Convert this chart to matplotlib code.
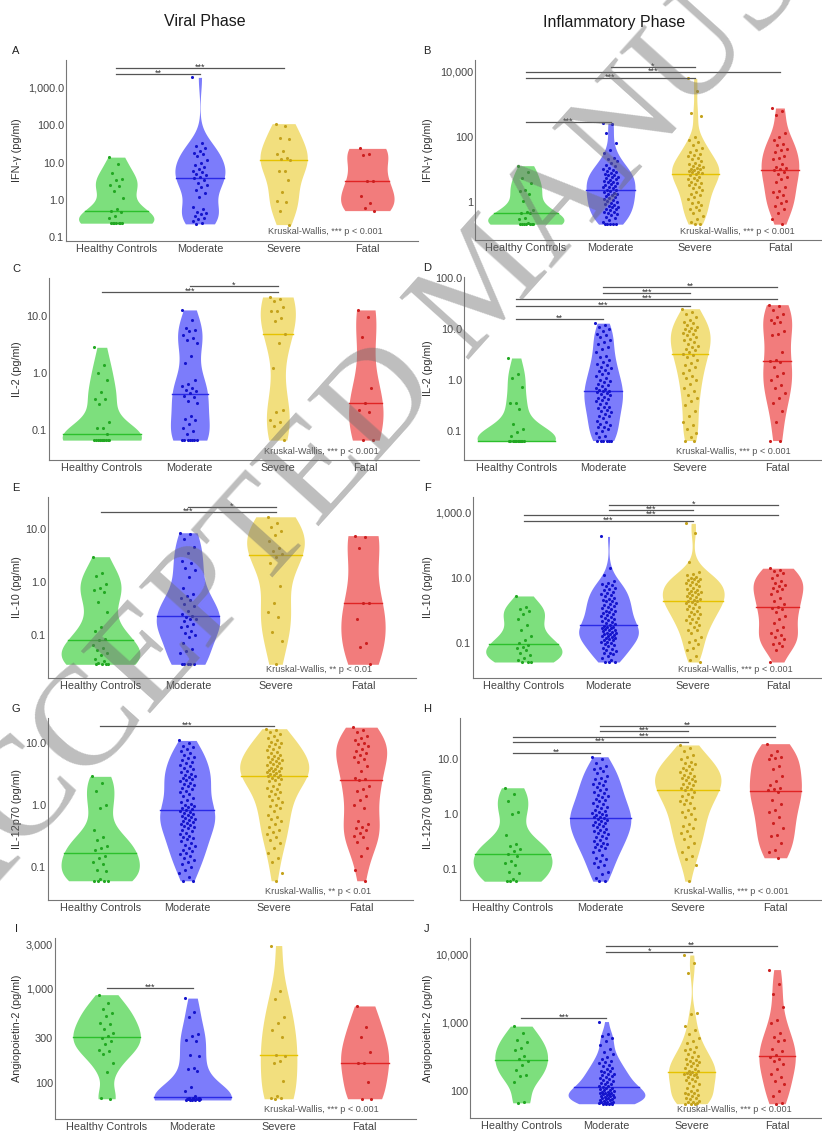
import numpy as np
import matplotlib
matplotlib.use("Agg")
import matplotlib.pyplot as plt

plt.rcParams['font.family'] = ['Liberation Sans', 'DejaVu Sans']

groups = ["Healthy Controls", "Moderate", "Severe", "Fatal"]
fill_cols = ['#7ddf7d', '#7c7cfb', '#f2df7e', '#f27c7c']
dot_cols = ['#22a822', '#1414cc', '#c4a21c', '#cc1f1f']
med_cols = ['#2cc02c', '#2a2ae6', '#e6c200', '#e02424']

# values in pg/ml; order = groups
ifn_viral = [
    [14, 9.2, 5.2, 3.6, 3.4, 2.5, 2.3, 1.7, 1.1, 0.56, 0.52, 0.49, 0.37, 0.34,
     0.24, 0.24, 0.24, 0.24, 0.24, 0.24, 0.24],
    [1900, 33, 27, 25, 20, 18, 17, 15, 12, 9.5, 8.5, 7.5, 6.8, 6.0, 5.5, 5.0,
     4.6, 4.2, 3.8, 3.4, 2.9, 2.5, 2.2, 1.9, 1.5, 1.2, 0.64, 0.56, 0.49, 0.45,
     0.41, 0.37, 0.34, 0.31, 0.28, 0.25, 0.23],
    [110, 95, 45, 42, 20, 17, 13, 12.5, 12, 6.0, 5.8, 3.4, 1.6, 0.95, 0.88, 0.5, 0.22],
    [24, 17, 16, 3.3, 3.3, 1.3, 0.85, 0.6, 0.52],
]
ifn_infl = [
    [12.9, 8.5, 5.3, 3.9, 2.4, 2.2, 1.8, 1.07, 0.57, 0.5, 0.47, 0.45, 0.32, 0.3,
     0.23, 0.22, 0.21, 0.21, 0.21, 0.21, 0.21, 0.21],
    [257, 240, 126, 63, 40, 32, 22, 20, 18, 16, 14, 12.6, 11, 10, 9.3, 8.7, 8.3,
     7.8, 7.2, 6.9, 6.5, 6.0, 5.8, 5.4, 5.0, 4.8, 4.5, 4.2, 4.0, 3.7, 3.5, 3.3,
     3.1, 2.9, 2.8, 2.6, 2.4, 2.3, 2.1, 2.0, 1.9, 1.8, 1.7, 1.6, 1.5, 1.4, 1.3,
     1.2, 1.15, 1.07, 1.0, 0.93, 0.87, 0.81, 0.76, 0.71, 0.68, 0.63, 0.59, 0.55,
     0.51, 0.49, 0.46, 0.44, 0.40, 0.35, 0.32, 0.28, 0.25, 0.22, 0.21, 0.21, 0.21, 0.21],
    [6000, 2400, 520, 420, 100, 80, 70, 55, 45, 40, 35, 30, 28, 25, 22, 20, 18,
     16, 15, 14, 13, 12, 11, 10.5, 10, 9.5, 9, 8.5, 8, 7.5, 7, 6.5, 6, 5.5, 5,
     4.6, 4.2, 3.8, 3.5, 3.2, 2.9, 2.6, 2.3, 2.0, 1.8, 1.6, 1.4, 1.2, 1.0, 0.9,
     0.8, 0.7, 0.6, 0.55, 0.45, 0.38, 0.3, 0.25, 0.21, 0.21],
    [750, 620, 450, 130, 100, 80, 60, 55, 42, 38, 35, 26, 22, 20, 15, 12, 11, 10,
     9.5, 8.5, 7, 6, 5, 4, 2.8, 2.2, 2.0, 1.6, 1.4, 1.1, 0.9, 0.75, 0.6, 0.45, 0.3, 0.21],
]
il2_viral = [
    [2.8, 1.4, 1.0, 0.76, 0.47, 0.36, 0.35, 0.29, 0.14, 0.11, 0.11, 0.087,
     0.068, 0.068, 0.068, 0.068, 0.068, 0.068, 0.068, 0.068, 0.068, 0.068, 0.068],
    [12.5, 8.5, 6.0, 5.5, 5.3, 4.5, 4.0, 3.8, 3.3, 2.0, 1.5, 0.75, 0.65, 0.6,
     0.55, 0.5, 0.48, 0.45, 0.4, 0.38, 0.33, 0.3, 0.18, 0.16, 0.15, 0.13, 0.11,
     0.1, 0.087, 0.068, 0.068, 0.068, 0.068, 0.068, 0.068, 0.068],
    [21, 19, 18, 14, 12, 12, 9, 8, 4.8, 3.3, 1.2, 0.23, 0.21, 0.15, 0.14, 0.12, 0.068],
    [12.5, 9.5, 4.3, 0.55, 0.3, 0.23, 0.21, 0.068, 0.068],
]
il2_infl = [
    [2.7, 1.3, 1.1, 0.74, 0.36, 0.35, 0.27, 0.14, 0.11, 0.095, 0.08,
     0.065, 0.065, 0.065, 0.065, 0.065, 0.065, 0.065, 0.065, 0.065, 0.065, 0.065, 0.065],
    [13, 12, 11, 10, 9, 8, 7.5, 7, 6, 5.5, 5, 4.5, 4, 3.5, 3, 2.8, 2.5, 2.3, 2.1,
     2.0, 1.8, 1.7, 1.6, 1.5, 1.4, 1.3, 1.2, 1.1, 1.0, 0.95, 0.9, 0.85, 0.8, 0.75,
     0.7, 0.68, 0.65, 0.62, 0.6, 0.57, 0.55, 0.52, 0.5, 0.47, 0.45, 0.42, 0.4,
     0.38, 0.36, 0.34, 0.3, 0.3, 0.28, 0.26, 0.25, 0.24, 0.22, 0.2, 0.2, 0.18,
     0.16, 0.15, 0.14, 0.13, 0.12, 0.12, 0.11, 0.1, 0.09, 0.08, 0.075,
     0.065, 0.065, 0.065, 0.065, 0.065, 0.065],
    [25, 22, 20, 17, 15, 14, 13, 12, 11, 10.5, 10, 9.5, 9, 8.5, 8, 7.5, 7, 6.5,
     6, 5.5, 5, 4.7, 4.4, 4.1, 3.8, 3.5, 3.3, 3.1, 2.8, 2.5, 2.2, 2.0, 1.8, 1.6,
     1.4, 1.2, 1.1, 1.0, 0.85, 0.7, 0.6, 0.5, 0.45, 0.38, 0.33, 0.25, 0.2, 0.15,
     0.13, 0.11, 0.09, 0.075, 0.065, 0.065],
    [30, 28, 24, 20, 17, 15, 14, 13, 9, 8, 7.5, 3.5, 2.5, 2.4, 2.3, 1.8, 1.4,
     1.2, 1.0, 0.8, 0.7, 0.55, 0.45, 0.35, 0.25, 0.15, 0.065, 0.065],
]
il10_viral = [
    [3.0, 1.5, 1.3, 0.92, 0.78, 0.72, 0.65, 0.42, 0.27, 0.14, 0.12, 0.083, 0.08,
     0.065, 0.058, 0.052, 0.045, 0.042, 0.036, 0.032, 0.029, 0.028, 0.028, 0.028, 0.028],
    [8.5, 8.0, 6.5, 4.6, 3.5, 2.5, 2.3, 1.8, 1.7, 1.26, 0.78, 0.6, 0.55, 0.5,
     0.45, 0.38, 0.35, 0.28, 0.25, 0.23, 0.22, 0.2, 0.2, 0.18, 0.16, 0.15, 0.14,
     0.12, 0.11, 0.1, 0.09, 0.07, 0.055, 0.05, 0.045,
     0.028, 0.028, 0.028, 0.028, 0.028],
    [17, 12.8, 11, 9.3, 7.7, 6.0, 4.4, 3.8, 3.4, 3.0, 2.3, 0.84, 0.4, 0.27, 0.22,
     0.115, 0.078, 0.028],
    [7.5, 7.0, 4.3, 0.4, 0.4, 0.2, 0.071, 0.06, 0.028],
]
il10_infl = [
    [2.8, 1.3, 1.1, 0.95, 0.8, 0.55, 0.36, 0.25, 0.16, 0.12, 0.1, 0.085, 0.078,
     0.07, 0.06, 0.05, 0.042, 0.035, 0.03, 0.026, 0.026, 0.026],
    [190, 20, 12, 8, 7, 6.5, 6, 5.5, 5, 4.6, 4.2, 3.8, 3.5, 3.2, 2.9, 2.7, 2.5,
     2.3, 2.1, 2.0, 1.9, 1.7, 1.6, 1.5, 1.4, 1.3, 1.2, 1.1, 1.0, 0.95, 0.9, 0.85,
     0.8, 0.75, 0.7, 0.65, 0.6, 0.55, 0.5, 0.47, 0.44, 0.41, 0.38, 0.36, 0.34,
     0.32, 0.3, 0.29, 0.28, 0.27, 0.26, 0.25, 0.24, 0.22, 0.21, 0.2, 0.19, 0.19,
     0.18, 0.17, 0.16, 0.15, 0.14, 0.14, 0.13, 0.12, 0.12, 0.11, 0.105, 0.1,
     0.09, 0.085, 0.08, 0.07, 0.065, 0.06, 0.055, 0.05, 0.05, 0.045, 0.04,
     0.035, 0.03, 0.026, 0.026, 0.026],
    [480, 250, 30, 15, 13, 12, 11, 10, 9.5, 9, 8.5, 8, 7.5, 7, 6.5, 6, 5.5, 5,
     4.7, 4.4, 4.1, 3.8, 3.6, 3.4, 3.2, 3.0, 2.8, 2.6, 2.4, 2.2, 2.1, 2.0, 1.9,
     1.8, 1.7, 1.6, 1.4, 1.3, 1.2, 1.1, 1.0, 0.9, 0.8, 0.8, 0.7, 0.6, 0.55, 0.5,
     0.45, 0.4, 0.35, 0.3, 0.25, 0.25, 0.2, 0.15, 0.12, 0.11, 0.09, 0.07, 0.06,
     0.04, 0.03, 0.026],
    [20, 18, 16, 14, 12, 10, 8, 7, 6, 5.5, 5, 4.5, 4, 3.2, 2.5, 2, 1.6, 1.3, 1.2,
     1.1, 0.9, 0.7, 0.55, 0.4, 0.3, 0.25, 0.2, 0.18, 0.15, 0.13, 0.1, 0.09, 0.08,
     0.06, 0.026],
]
il12_viral = [
    [2.9, 2.3, 1.7, 1.0, 0.9, 0.39, 0.3, 0.27, 0.22, 0.2, 0.19, 0.15, 0.14, 0.12,
     0.11, 0.09, 0.085, 0.065, 0.06, 0.06, 0.06, 0.06],
    [11, 10, 9, 8.5, 8, 7.5, 7, 6.5, 6, 5.7, 5.4, 5, 4.8, 4.5, 4.3, 4, 3.8, 3.6,
     3.4, 3.2, 3.0, 2.9, 2.8, 2.7, 2.6, 2.5, 2.4, 2.3, 2.2, 2.1, 2.0, 1.9, 1.8,
     1.7, 1.6, 1.5, 1.4, 1.3, 1.2, 1.1, 1.05, 1.0, 0.97, 0.93, 0.9, 0.87, 0.84,
     0.81, 0.78, 0.75, 0.72, 0.7, 0.67, 0.65, 0.62, 0.6, 0.58, 0.56, 0.54, 0.52,
     0.5, 0.48, 0.46, 0.44, 0.42, 0.4, 0.38, 0.36, 0.34, 0.32, 0.3, 0.29, 0.28,
     0.26, 0.24, 0.23, 0.22, 0.2, 0.19, 0.18, 0.17, 0.16, 0.15, 0.14, 0.13,
     0.12, 0.11, 0.1, 0.09, 0.08, 0.07, 0.06, 0.06],
    [17, 16, 15, 14, 13, 12, 11, 10.5, 10, 9.5, 9, 8.5, 8, 7.6, 7.2, 6.8, 6.5,
     6.2, 6, 5.8, 5.6, 5.4, 5.2, 5, 4.8, 4.6, 4.4, 4.2, 4, 3.9, 3.8, 3.7, 3.6,
     3.5, 3.4, 3.3, 3.2, 3.1, 3, 2.9, 2.8, 2.7, 2.6, 2.5, 2.4, 2.2, 2.0, 1.9,
     1.8, 1.7, 1.6, 1.5, 1.4, 1.3, 1.2, 1.1, 1.0, 0.95, 0.9, 0.8, 0.7, 0.65,
     0.6, 0.55, 0.5, 0.45, 0.4, 0.37, 0.34, 0.3, 0.27, 0.24, 0.2, 0.17, 0.14,
     0.12, 0.08, 0.06],
    [18, 16, 15, 13, 12, 11, 10, 9.5, 9, 8, 7.5, 7, 6.5, 6, 5.5, 5, 4.2, 3.5,
     2.7, 2.6, 2.5, 2.0, 1.8, 1.7, 1.4, 1.2, 1.0, 0.9, 0.55, 0.5, 0.45, 0.42,
     0.4, 0.35, 0.32, 0.3, 0.25, 0.2, 0.15, 0.09, 0.06],
]
il12_infl = [
    [3.0, 2.3, 1.7, 1.1, 1.0, 0.41, 0.28, 0.26, 0.23, 0.21, 0.19, 0.17, 0.14,
     0.13, 0.12, 0.09, 0.085, 0.065, 0.06, 0.06, 0.06],
    [11, 10, 8.5, 7.5, 7, 6.5, 6, 5.5, 5, 4.6, 4.3, 4, 3.7, 3.5, 3.3, 3.1, 2.9,
     2.7, 2.5, 2.4, 2.2, 2.1, 2.0, 1.9, 1.8, 1.7, 1.6, 1.5, 1.4, 1.35, 1.3, 1.2,
     1.15, 1.1, 1.05, 1.0, 0.97, 0.94, 0.9, 0.87, 0.84, 0.8, 0.77, 0.74, 0.71,
     0.68, 0.65, 0.62, 0.6, 0.57, 0.54, 0.52, 0.5, 0.47, 0.45, 0.43, 0.4, 0.38,
     0.36, 0.34, 0.32, 0.3, 0.29, 0.28, 0.26, 0.25, 0.24, 0.22, 0.2, 0.18, 0.16,
     0.15, 0.14, 0.13, 0.12, 0.11, 0.09, 0.08, 0.07, 0.06, 0.06],
    [18, 16, 14, 12, 11, 10, 9, 8.5, 8, 7.5, 7, 6.5, 6.2, 5.8, 5.5, 5.2, 5, 4.7,
     4.5, 4.3, 4.1, 3.9, 3.7, 3.5, 3.3, 3.1, 3.0, 2.9, 2.7, 2.5, 2.3, 2.1, 2.0,
     1.8, 1.7, 1.6, 1.5, 1.3, 1.2, 1.1, 1.0, 0.9, 0.8, 0.65, 0.6, 0.55, 0.5,
     0.45, 0.4, 0.35, 0.3, 0.25, 0.2, 0.17, 0.15, 0.12, 0.06],
    [19, 14, 12, 11, 10.5, 10, 7.5, 6.5, 5, 4, 3.3, 3, 2.8, 2.7, 2.5, 1.8, 1.5,
     1.2, 1.1, 0.9, 0.7, 0.55, 0.42, 0.4, 0.3, 0.22, 0.2, 0.16],
]
ang_viral = [
    [870, 715, 610, 550, 520, 440, 420, 380, 340, 320, 300, 280, 260, 225, 220,
     205, 165, 130, 70, 68],
    [800, 575, 500, 330, 320, 290, 280, 200, 195, 145, 140, 135, 90, 82, 72, 70,
     70, 69, 68, 68, 68, 67, 67, 67, 67, 66, 66, 66, 66, 66],
    [2900, 960, 780, 500, 430, 365, 305, 200, 195, 170, 165, 106, 72, 70, 69, 68],
    [660, 390, 310, 212, 165, 162, 102, 68, 68],
]
ang_infl = [
    [900, 720, 560, 520, 430, 400, 330, 300, 280, 240, 205, 170, 165, 135, 70, 67],
    [1050, 700, 650, 600, 550, 480, 420, 380, 350, 320, 300, 280, 270, 260, 240,
     230, 220, 210, 200, 195, 190, 180, 175, 170, 165, 160, 155, 150, 145, 140,
     135, 130, 128, 125, 120, 118, 115, 112, 110, 108, 105, 102, 100, 98, 97, 95,
     93, 92, 90, 89, 88, 86, 85, 84, 82, 81, 80, 78, 77, 76, 74, 73, 72, 70, 69,
     68, 67, 66, 66, 65, 65, 65, 65],
    [10000, 7500, 5400, 1400, 1350, 900, 800, 700, 600, 550, 500, 450, 420, 400,
     380, 350, 330, 320, 300, 290, 280, 270, 260, 250, 240, 230, 220, 210, 200,
     195, 190, 185, 180, 180, 175, 170, 160, 160, 150, 145, 140, 130, 125, 120,
     110, 105, 100, 95, 92, 90, 88, 85, 80, 78, 75, 72, 70, 68, 67, 65, 65, 65],
    [6100, 3800, 2700, 1700, 1100, 1000, 720, 620, 560, 540, 420, 390, 340, 320,
     300, 280, 250, 210, 180, 160, 140, 125, 100, 85, 66, 65],
]

# significance brackets: (group i, group j, height in pg/ml, label)
br_A = [(0, 2, 3400, "***"), (0, 1, 2350, "**")]
br_B = [(1, 2, 13500, "*"), (0, 3, 9500, "***"), (0, 2, 6200, "***"), (0, 1, 280, "***")]
br_C = [(1, 2, 32, "*"), (0, 2, 26, "***")]
br_D = [(1, 3, 66, "**"), (1, 2, 51, "***"), (0, 3, 39, "***"), (0, 2, 28, "***"), (0, 1, 16, "**")]
br_E = [(1, 2, 26, "*"), (0, 2, 21, "***")]
br_F = [(1, 3, 1800, "*"), (1, 2, 1230, "***"), (0, 3, 870, "***"), (0, 2, 560, "***")]
br_G = [(0, 2, 19, "***")]
br_H = [(1, 3, 40, "**"), (1, 2, 32, "***"), (0, 3, 25, "***"), (0, 2, 20, "***"), (0, 1, 13, "**")]
br_I = [(0, 1, 1020, "***")]
br_J = [(1, 3, 13500, "**"), (1, 2, 11000, "*"), (0, 1, 1170, "***")]

kw3 = "Kruskal-Wallis, *** p < 0.001"
kw2 = "Kruskal-Wallis, ** p < 0.01"

# letter, data, y label, ticks, tick labels, brackets, KW text,
# layout in px: left, top, bottom, category step, ref value, ref px, px per decade
panels = [
    ("A", ifn_viral, "IFN-γ (pg/ml)", [0.1, 1, 10, 100, 1000],
     ["0.1", "1.0", "10.0", "100.0", "1,000.0"], br_A, kw3,
     (66, 60, 241, 83.7, 1, 200, 37.4)),
    ("B", ifn_infl, "IFN-γ (pg/ml)", [1, 100, 10000], ["1", "100", "10,000"],
     br_B, kw3, (475, 60, 240, 84.7, 1, 202, 32.7)),
    ("C", il2_viral, "IL-2 (pg/ml)", [0.1, 1, 10], ["0.1", "1.0", "10.0"],
     br_C, kw3, (49, 278, 460, 88, 1, 373, 57.5)),
    ("D", il2_infl, "IL-2 (pg/ml)", [0.1, 1, 10, 100], ["0.1", "1.0", "10.0", "100.0"],
     br_D, kw3, (464, 277, 460, 87, 1, 380, 51)),
    ("E", il10_viral, "IL-10 (pg/ml)", [0.1, 1, 10], ["0.1", "1.0", "10.0"],
     br_E, kw2, (48, 497, 678, 87.5, 1, 582, 53)),
    ("F", il10_infl, "IL-10 (pg/ml)", [0.1, 10, 1000], ["0.1", "10.0", "1,000.0"],
     br_F, kw3, (473, 497, 678, 84.7, 10, 578, 32.5)),
    ("G", il12_viral, "IL-12p70 (pg/ml)", [0.1, 1, 10], ["0.1", "1.0", "10.0"],
     br_G, kw2, (48, 718, 900, 87, 1, 805, 62)),
    ("H", il12_infl, "IL-12p70 (pg/ml)", [0.1, 1, 10], ["0.1", "1.0", "10.0"],
     br_H, kw3, (460, 718, 900, 87.6, 1, 814, 55)),
    ("I", ang_viral, "Angiopoietin-2 (pg/ml)", [100, 300, 1000, 3000],
     ["100", "300", "1,000", "3,000"], br_I, kw3, (55, 938, 1119, 86, 1000, 989, 94)),
    ("J", ang_infl, "Angiopoietin-2 (pg/ml)", [100, 1000, 10000],
     ["100", "1,000", "10,000"], br_J, kw3, (470, 938, 1118, 85.3, 1000, 1023, 68)),
]

W, H = 822, 1131


def nrd0(x):
    # R's default bandwidth, as used by ggplot's geom_violin
    hi = np.std(x, ddof=1)
    q75, q25 = np.percentile(x, [75, 25])
    lo = min(hi, (q75 - q25) / 1.34)
    if lo == 0:
        lo = hi if hi > 0 else 1.0
    return 0.9 * lo * len(x) ** -0.2


def density(logv):
    grid = np.linspace(logv.min(), logv.max(), 512)
    bw = nrd0(logv)
    d = np.exp(-0.5 * ((grid[:, None] - logv[None, :]) / bw) ** 2).sum(axis=1)
    d /= len(logv) * bw * np.sqrt(2 * np.pi)
    return grid, d


def jitter(n):
    return ((np.arange(n) * 0.618034) % 1.0 - 0.5) * 0.18


fig = plt.figure(figsize=(W / 100, H / 100), dpi=100)

fig.text(205 / W, 1 - 22 / H, "Viral Phase", ha='center', va='center',
         fontsize=11.5, color='#1a1a1a')
fig.text(614 / W, 1 - 22 / H, "Inflammatory Phase", ha='center', va='center',
         fontsize=11.5, color='#1a1a1a')

for letter, data, ylab, ticks, tlabels, brackets, kw, lay in panels:
    left, top, bottom, step, ref_v, ref_px, ppd = lay
    width = 4.2 * step
    ax = fig.add_axes([left / W, 1 - bottom / H, width / W, (bottom - top) / H])
    ax.set_yscale('log')
    ax.set_xlim(-0.6, 3.6)
    ax.set_ylim(ref_v * 10 ** ((ref_px - bottom) / ppd), ref_v * 10 ** ((ref_px - top) / ppd))

    dens = [density(np.log10(np.array(v, dtype=float))) for v in data]
    dmax = max(d.max() for g, d in dens)
    for i, (vals, (grid, d)) in enumerate(zip(data, dens)):
        hw = 0.45 * d / dmax
        ax.fill_betweenx(10 ** grid, i - hw, i + hw, color=fill_cols[i], lw=0, zorder=1)
        med = np.median(vals)
        hm = np.interp(np.log10(med), grid, hw)
        ax.plot([i - hm, i + hm], [med, med], color=med_cols[i], lw=1.0, zorder=2)
        ax.scatter(i + jitter(len(vals)), vals, s=5, color=dot_cols[i], lw=0, zorder=3)

    for a, b, y, lab in brackets:
        ax.plot([a, b], [y, y], color='#555555', lw=0.9, zorder=4, clip_on=False)
        ax.annotate(lab, ((a + b) / 2, y), xytext=(0, 0.6), textcoords='offset points',
                    ha='center', va='center', fontsize=6.5, color='#333333')

    ax.text(2.5, 9 / (bottom - top), kw, transform=ax.get_xaxis_transform(),
            ha='center', va='center', fontsize=6.6, color='#555555')

    ax.set_xticks(range(4))
    ax.set_xticklabels(groups)
    ax.yaxis.set_major_locator(matplotlib.ticker.FixedLocator(ticks))
    ax.yaxis.set_minor_locator(matplotlib.ticker.NullLocator())
    ax.set_yticklabels(tlabels)
    ax.tick_params(axis='both', length=0, labelsize=7.8, colors='#444444')
    ax.tick_params(axis='y', pad=1.5)
    ax.tick_params(axis='x', pad=2)
    for s in ('top', 'right'):
        ax.spines[s].set_visible(False)
    for s in ('left', 'bottom'):
        ax.spines[s].set_color('#777777')
        ax.spines[s].set_linewidth(0.8)

    ax.set_ylabel(ylab, fontsize=7.8, color='#333333')
    ax.yaxis.label.set_verticalalignment('center')
    col0 = 0 if left < 411 else 411
    ax.yaxis.set_label_coords((col0 + 17 - left) / width, 0.5)

    lx = 16 if col0 == 0 else 427
    fig.text((lx) / W, 1 - (top - 9) / H, letter, ha='center', va='center',
             fontsize=8, color='#222222')

# diagonal watermark across the page
fig.text(490 / W, 1 - 285 / H, "ACCEPTED MANUSCRIPT", rotation=48,
         rotation_mode='anchor', ha='center', va='center', fontsize=102,
         family=['Liberation Serif', 'DejaVu Serif'], color='#6e6e6e', alpha=0.45,
         zorder=100)

fig.savefig('out.png', dpi=100)
